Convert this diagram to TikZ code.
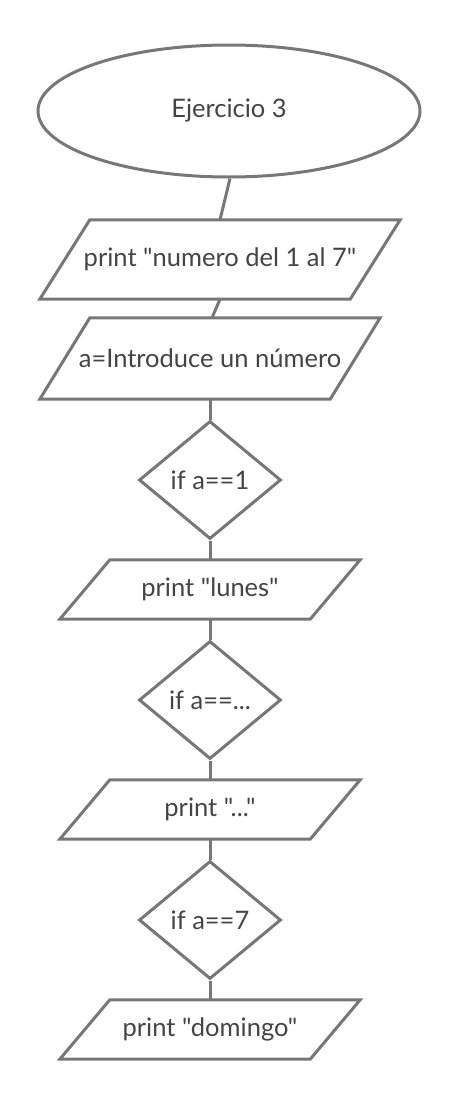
\documentclass[tikz,border=0pt]{standalone}
\usepackage{fontspec}
\newfontfamily\latofont{Lato}
\usetikzlibrary{shapes.geometric}
\definecolor{linegray}{HTML}{777777}
\definecolor{textgray}{HTML}{444444}
\tikzset{
  shapeline/.style={draw=linegray, line width=3pt, line join=miter},
  txt/.style={font=\latofont\fontsize{25.5}{30}\selectfont, text=textgray},
  startbox/.style={shapeline, ellipse, minimum width=382pt, minimum height=132pt, inner sep=0pt, txt},
  iobox/.style={rectangle, inner sep=0pt, txt},
  decbox/.style={shapeline, diamond, minimum width=142pt, minimum height=118pt, inner sep=0pt, txt},
  conn/.style={draw=linegray, line width=3pt}
}
\newcommand{\iooutline}[2]{%
  \draw[shapeline] ([xshift=#2]#1.north west) -- (#1.north east) -- ([xshift=-#2]#1.south east) -- (#1.south west) -- cycle;}
\begin{document}
\begin{tikzpicture}[x=1pt,y=-1pt]
\useasboundingbox (0,0) rectangle (461,1100);
\node[startbox] (e) at (229,111) {Ejercicio 3};
\node[iobox, minimum width=360pt, minimum height=79pt] (p1) at (220,259.5) {print "numero del 1 al 7"};
\iooutline{p1}{50pt}
\node[iobox, minimum width=340pt, minimum height=81pt] (p2) at (210,358.5) {a=Introduce un número};
\iooutline{p2}{50pt}
\node[decbox] (d1) at (210,480) {if a==1};
\node[iobox, minimum width=300pt, minimum height=59pt] (p3) at (210,589.5) {print "lunes"};
\iooutline{p3}{50pt}
\node[decbox] (d2) at (210,700) {if a==...};
\node[iobox, minimum width=300pt, minimum height=59pt] (p4) at (210,809.5) {print "..."};
\iooutline{p4}{50pt}
\node[decbox] (d3) at (210,920) {if a==7};
\node[iobox, minimum width=300pt, minimum height=59pt] (p5) at (210,1029.5) {print "domingo"};
\iooutline{p5}{50pt}
\coordinate (eb) at ([xshift=1pt]e.south);
\coordinate (p2t) at ([xshift=2pt]p2.north);
\draw[conn] (eb) -- (p1.north);
\draw[conn] (p1.south) -- (p2t);
\draw[conn] (p2.south) -- (d1.north);
\draw[conn] (d1.south) -- (p3.north);
\draw[conn] (p3.south) -- (d2.north);
\draw[conn] (d2.south) -- (p4.north);
\draw[conn] (p4.south) -- (d3.north);
\draw[conn] (d3.south) -- (p5.north);
\end{tikzpicture}
\end{document}
